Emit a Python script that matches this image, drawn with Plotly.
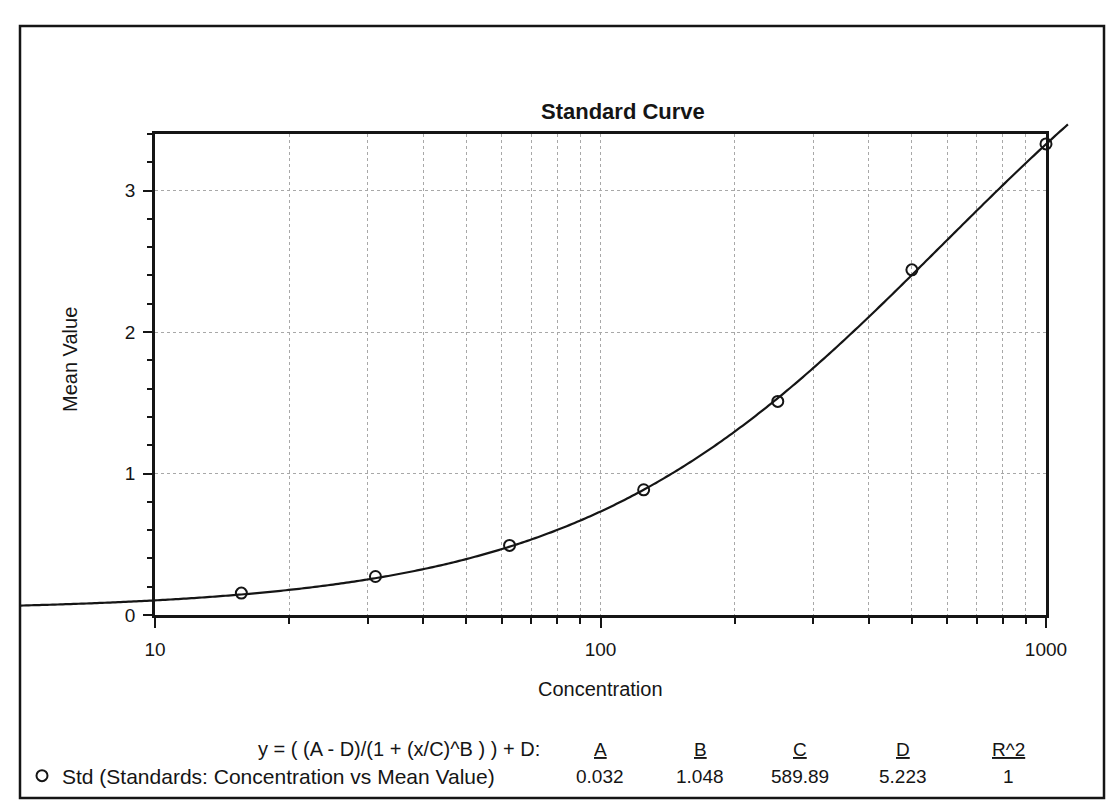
import numpy as np
import plotly.graph_objects as go

# Standards: concentration vs mean value
conc = [15.625, 31.25, 62.5, 125, 250, 500, 1000]
mean_value = [0.155, 0.272, 0.492, 0.885, 1.51, 2.44, 3.33]

# 4-parameter logistic fit
fit_A = 0.032
fit_B = 1.048
fit_C = 589.89
fit_D = 5.223
fit_R2 = 1

# Span of the drawn fit curve (concentration)
curve_conc_min = 5
curve_conc_max = 1120

x_tick_vals = [10, 100, 1000]
x_tick_text = ["10", "100", "1000"]
x_minor_vals = [20, 30, 40, 50, 60, 70, 80, 90, 200, 300, 400, 500, 600, 700, 800, 900]
y_tick_vals = [0, 1, 2, 3]
y_range = [0, 3.4]

param_names = ["A", "B", "C", "D", "R^2"]
param_text = ["0.032", "1.048", "589.89", "5.223", "1"]


def four_pl(x):
    return (fit_A - fit_D) / (1 + (x / fit_C) ** fit_B) + fit_D


# ---- page geometry (pixels) ----
W, H = 1114, 805
PL, PR, PT, PB = 155, 1046, 134, 615  # plot box
FONT = "Liberation Sans, Arial, sans-serif"
INK = "#151515"

x_dom = [PL / W, PR / W]
y_dom = [1 - PB / H, 1 - PT / H]

# overlay axes spanning the whole page with the same scale as the plot box,
# so the fit line can run past the plot frame
px_per_decade = (PR - PL) / 2.0
x2_range = [1 - PL / px_per_decade, 1 + (W - PL) / px_per_decade]
px_per_unit = (PB - PT) / (y_range[1] - y_range[0])
y2_range = [y_range[0] - (H - PB) / px_per_unit, y_range[1] + PT / px_per_unit]

curve_x = np.logspace(np.log10(curve_conc_min), np.log10(curve_conc_max), 400)
curve_y = four_pl(curve_x)

fig = go.Figure()

# invisible anchor trace so the framed axes render
fig.add_trace(go.Scatter(x=[10, 1000], y=y_range, mode="none", showlegend=False,
                         hoverinfo="skip", xaxis="x", yaxis="y"))

fig.add_trace(go.Scatter(
    x=curve_x, y=curve_y, mode="lines", showlegend=False,
    line=dict(color=INK, width=2.2, simplify=False), xaxis="x2", yaxis="y2",
    hoverinfo="skip",
))
fig.add_trace(go.Scatter(
    x=conc, y=mean_value, mode="markers",
    name="Std (Standards: Concentration vs Mean Value)",
    marker=dict(symbol="circle-open", size=11, color=INK, line=dict(width=2, color=INK)),
    xaxis="x2", yaxis="y2", cliponaxis=False,
))

grid = dict(gridcolor="#a8a8a8", gridwidth=1, griddash="dot")

fig.update_layout(
    width=W, height=H,
    margin=dict(l=0, r=0, t=0, b=0, pad=0, autoexpand=False),
    paper_bgcolor="white", plot_bgcolor="rgba(0,0,0,0)",
    font=dict(family=FONT, size=19, color=INK),
    xaxis=dict(
        type="log", range=[1, 3], domain=x_dom, anchor="y",
        tickvals=x_tick_vals, ticktext=x_tick_text,
        ticks="outside", ticklen=10, tickwidth=2, tickcolor=INK,
        ticklabelstandoff=5,
        showline=True, linewidth=2.5, linecolor=INK, mirror=True,
        showgrid=True, zeroline=False, **grid,
        minor=dict(tickvals=x_minor_vals, ticks="outside", ticklen=6,
                   tickwidth=2, tickcolor=INK, showgrid=True, **grid),
        tickfont=dict(size=19),
    ),
    yaxis=dict(
        range=y_range, domain=y_dom, anchor="x",
        tickvals=y_tick_vals,
        ticks="outside", ticklen=9, tickwidth=2, tickcolor=INK,
        ticklabelstandoff=4,
        showline=True, linewidth=2.5, linecolor=INK, mirror=True,
        showgrid=True, zeroline=False, **grid,
        minor=dict(dtick=0.2, ticks="outside", ticklen=5, tickwidth=2,
                   tickcolor=INK, showgrid=False),
        tickfont=dict(size=19),
    ),
    xaxis2=dict(type="log", range=x2_range, domain=[0, 1], anchor="y2",
                visible=False, fixedrange=True),
    yaxis2=dict(range=y2_range, domain=[0, 1], anchor="x2",
                visible=False, fixedrange=True),
    showlegend=True,
    legend=dict(x=22 / W, y=1 - 776 / H, xanchor="left", yanchor="middle",
                bgcolor="rgba(0,0,0,0)", font=dict(size=21, family=FONT, color=INK),
                itemwidth=30, tracegroupgap=0),
)

# outer frame of the report panel
fig.add_shape(type="rect", xref="paper", yref="paper",
              x0=20 / W, x1=1104 / W, y0=1 - 798 / H, y1=1 - 26 / H,
              line=dict(color=INK, width=2.5), layer="below")

ann = []
ann.append(dict(text="<b>Standard Curve</b>", x=623 / W, y=1 - 112 / H,
                font=dict(size=22)))
ann.append(dict(text="Concentration", x=((PL + PR) / 2) / W, y=1 - 689 / H,
                font=dict(size=20)))
ann.append(dict(text="Mean Value", x=70 / W, y=1 - 360 / H, textangle=-90,
                font=dict(size=20)))
ann.append(dict(text="y = ( (A - D)/(1 + (x/C)^B ) ) + D:", x=542 / W,
                y=1 - 749 / H, xanchor="right", font=dict(size=20)))
col_x = [600, 700, 800, 903, 1008]
for cx, name, val in zip(col_x, param_names, param_text):
    ann.append(dict(text=f"<u>{name}</u>", x=cx / W, y=1 - 749 / H, font=dict(size=19)))
    ann.append(dict(text=val, x=cx / W, y=1 - 776 / H, font=dict(size=19)))

for a in ann:
    a.setdefault("xref", "paper")
    a.setdefault("yref", "paper")
    a.setdefault("showarrow", False)
    a.setdefault("xanchor", "center")
    a.setdefault("yanchor", "middle")
    a["font"] = dict(family=FONT, color=INK, **a["font"])
fig.update_layout(annotations=ann)

fig.write_html("out.html")
